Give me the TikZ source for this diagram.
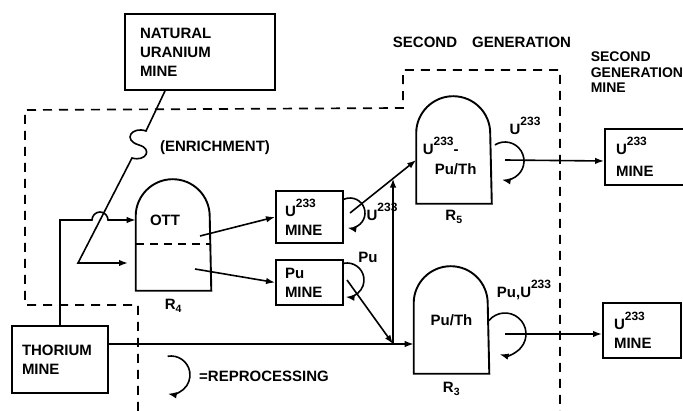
\documentclass[tikz,border=0pt]{standalone}
\usepackage{fontspec}
\setmainfont{Liberation Sans}
\usetikzlibrary{arrows.meta,positioning,calc}
\newcommand{\uthree}{U\raisebox{9pt}{\fontsize{12}{12}\selectfont 233}}

\begin{document}
\begin{tikzpicture}[
  x=1pt,y=-1pt,
  font=\fontsize{15}{19}\selectfont\bfseries,
  line width=1.6pt,
  node distance=6pt,
  mine/.style={draw,line width=1.9pt,align=left,inner ysep=2pt},
  vessel/.style={minimum width=74pt,minimum height=106pt,inner sep=0pt},
  tag/.style={inner sep=1pt},
  arr/.style={-{Latex[length=9pt,width=6.5pt]}},
  bound/.style={dash pattern=on 9pt off 7pt,line width=1.7pt}
]
  \useasboundingbox (0,0) rectangle (683,411);

  % mines
  \node[mine,text width=120pt,inner xsep=15pt,minimum height=76pt] (natu) at (200,52) {NATURAL\\URANIUM\\MINE};
  \node[mine,text width=76pt,inner xsep=10pt,minimum height=67pt] (thor) at (60,359.5) {THORIUM\\MINE};
  \node[mine,text width=49pt,inner xsep=9pt,minimum height=52pt] (umine) at (309.5,217) {\uthree\\MINE};
  \node[mine,text width=49pt,inner xsep=9pt,minimum height=45pt] (pumine) at (309.5,282.5) {Pu\\MINE};
  \node[mine,text width=73pt,inner xsep=11pt,minimum height=56pt] (umine5) at (652.5,157) {\uthree\\[3pt]MINE};
  \node[mine,text width=56pt,inner xsep=11pt,minimum height=55pt] (umine3) at (642,330.5) {\uthree\\MINE};

  % reactors
  \node[vessel,minimum height=110pt] (r4) at (173.5,235) {};
  \node[vessel] (r5) at (454,150) {};
  \node[vessel] (r3) at (451.5,320) {Pu/Th};
  \foreach \r in {r4,r5,r3}
    \draw[line width=1.9pt] (\r.south west) -- ([yshift=-37pt]\r.north west)
      arc[start angle=180,end angle=0,radius=37pt] -- (\r.south east) -- cycle;
  \draw[dash pattern=on 8pt off 6pt] ([yshift=-9pt]r4.west) -- ([yshift=-9pt]r4.east);

  \node[tag] (ott) at (165,220) {OTT};
  \node[tag,below=7pt of r4] (r4lbl) {R\textsubscript{4}};
  \node[tag,anchor=base west] (r5top) at (421,155) {\uthree-};
  \node[tag,anchor=base west] (r5bot) at (433,175) {Pu/Th};
  \node[tag,below=5pt of r5] (r5lbl) {R\textsubscript{5}};
  \node[tag,below=7pt of r3] (r3lbl) {R\textsubscript{3}};

  % labels
  \node[tag] (enrich) at (215,148) {(ENRICHMENT)};
  \node[tag] (secgen) at (482,42) {SECOND\quad GENERATION};
  \node[tag,align=left,anchor=north west,font=\fontsize{14}{15.5}\selectfont\bfseries] (secmine) at (589,50) {SECOND\\GENERATION\\MINE};
  \node[tag] (ulbl) at (382,212) {\uthree};
  \node[tag] (pulbl) at (368,257) {Pu};
  \node[tag] (u5lbl) at (525,126) {\uthree};
  \node[tag] (pu3lbl) at (524,290) {Pu,\uthree};
  \node[tag] (reproc) at (264,376) {=REPROCESSING};

  % points
  \coordinate (enrA) at (146,131);
  \coordinate (enrB) at (132,158);
  \coordinate (enrC) at (78,263);
  \coordinate (enrD) at (128,263);
  \coordinate (hopA) at (92,220);
  \coordinate (thorout) at ([yshift=15.5pt]thor.east);
  \coordinate (r4u) at (200,236);
  \coordinate (r4p) at (195,269);
  \coordinate (uloop) at (350,213);
  \coordinate (puloop) at (347,280);
  \coordinate (r5loop) at (505,161);
  \coordinate (r3loop) at (505,334);
  \coordinate (legend) at (171,375);
  \coordinate (join) at ($(uloop)!0.65!([yshift=-10pt]r5.west)$);

  % boundary of first generation
  \draw[bound] (138,411) -- (138,305) -- (25,305) -- (25,110) -- (403,108) -- (403,70) -- (560,70) -- (560,411);

  % flows
  \draw[arr] ([xshift=-35pt]natu.south) -- (enrA)
    .. controls (132,126) and (122,140) .. (139,145)
    .. controls (153,149) and (146,162) .. (enrB) -- (enrC) -- (enrD);
  \draw[arr] (thor.north) |- (hopA) arc[start angle=180,end angle=0,radius=8pt] -- (r4.west |- hopA);
  \draw[arr] (thorout) -- (r3.west |- thorout);
  \draw[arr] (r4u) -- (umine.west);
  \draw[arr] (r4p) -- (pumine.west);
  \draw[arr] (uloop) -- ([yshift=-10pt]r5.west);
  \draw[arr] (join |- thorout) -- (join);
  \draw[arr] (puloop) -- (join |- thorout);
  \draw[arr] ([yshift=1pt]r5loop) -- (umine5.west |- r5loop);
  \draw[arr] (r3loop) -- (umine3.west |- r3loop);

  % reprocessing loops
  \draw[arr] ($(uloop)+(120:15pt)$) arc[start angle=120,end angle=-100,radius=15pt];
  \draw[arr] ($(puloop)+(100:17pt)$) arc[start angle=100,end angle=-95,radius=17pt];
  \draw[arr] ($(r5loop)+(122:19pt)$) arc[start angle=122,end angle=-100,radius=19pt];
  \draw[arr] ($(r3loop)+(140:21pt)$) arc[start angle=140,end angle=-105,radius=21pt];
  \draw[arr] ($(legend)+(100:19pt)$) arc[start angle=100,end angle=-100,radius=19pt];
\end{tikzpicture}
\end{document}
